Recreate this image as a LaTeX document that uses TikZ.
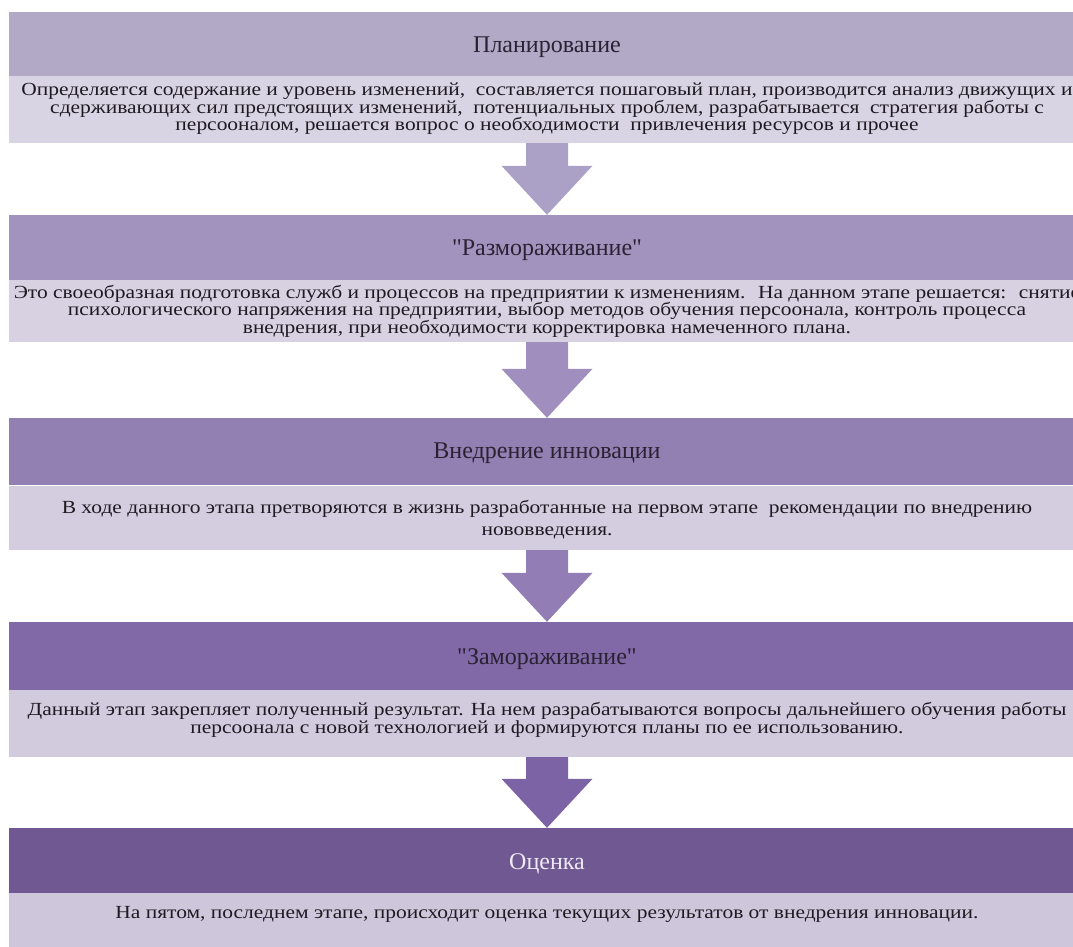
\documentclass[tikz,border=0pt]{standalone}
\usepackage{fontspec}
\setmainfont{Liberation Serif}[Ligatures=TeXOff]
\newfontfamily\serifru{Liberation Serif}[Ligatures=TeXOff]
\newfontfamily\serifwide{Liberation Serif}[Ligatures=TeXOff, FakeStretch=1.16]
\usetikzlibrary{calc}
\definecolor{hA}{HTML}{B2A9C6}
\definecolor{hB}{HTML}{A193BE}
\definecolor{hC}{HTML}{9280B2}
\definecolor{hD}{HTML}{8168A6}
\definecolor{hE}{HTML}{705992}
\definecolor{bA}{HTML}{D9D4E3}
\definecolor{bB}{HTML}{D7D1E1}
\definecolor{bC}{HTML}{D4CDDF}
\definecolor{bD}{HTML}{D2CBDE}
\definecolor{bE}{HTML}{CEC7DB}
\definecolor{aA}{HTML}{ABA1C7}
\definecolor{aB}{HTML}{A08FBE}
\definecolor{aC}{HTML}{927DB4}
\definecolor{aD}{HTML}{7C63A5}
\definecolor{titletext}{HTML}{2A2233}
\definecolor{lighttitle}{HTML}{EFE8F5}
\definecolor{bodytext}{HTML}{1E1A22}
\newcommand{\bodyfont}[1]{\serifwide\fontsize{18.5}{#1}\selectfont\lineskiplimit=-40pt\relax}
\tikzset{
  hdrbox/.style={rectangle, inner sep=0pt, minimum width=1076pt},
  bandbox/.style={rectangle, inner sep=0pt, minimum width=1076pt},
  titletxt/.style={inner sep=0pt, text=titletext, font=\serifru\fontsize{24}{26}\selectfont},
  bodytxt/.style={inner sep=0pt, align=center, text=bodytext}
}
\newcommand{\blockarr}[3]{%
  \fill[#3] ($(#1.south)+(-21,0)$) -- ($(#1.south)+(21,0)$)
    -- ($(#2.north)+(21,-49)$) -- ($(#2.north)+(45.5,-49)$)
    -- (#2.north) -- ($(#2.north)+(-45.5,-49)$) -- ($(#2.north)+(-21,-49)$) -- cycle;}
\begin{document}
\begin{tikzpicture}[x=1pt,y=-1pt]
\useasboundingbox (0,0) rectangle (1073,947);
\clip (0,0) rectangle (1073,947);
\fill[white] (0,0) rectangle (1073,947);
% block 1
\node[hdrbox, fill=hA, minimum height=64pt] (h1) at (547,44) {};
\node[bandbox, fill=bA, minimum height=67pt] (b1) at (547,109.5) {};
\node[titletxt] (t1) at ($(h1.center)+(0,3)$) {Планирование};
\node[bodytxt, font=\bodyfont{17.5}] (d1) at (547,109) {Определяется содержание и уровень изменений,~ составляется пошаговый план, производится анализ движущих и\\сдерживающих сил предстоящих изменений,~ потенциальных проблем, разрабатывается~ стратегия работы с\\персооналом, решается вопрос о необходимости~ привлечения ресурсов и прочее};
% block 2
\node[hdrbox, fill=hB, minimum height=65pt] (h2) at (547,247.5) {};
\node[bandbox, fill=bB, minimum height=62pt] (b2) at (547,311) {};
\node[titletxt] (t2) at ($(h2.center)+(0,3)$) {"Размораживание"};
\node[bodytxt, font=\bodyfont{17.5}] (d2) at (547,311) {Это своеобразная подготовка служб и процессов на предприятии к изменениям.~ На данном этапе решается:~ снятие\\психологического напряжения на предприятии, выбор методов обучения персоонала, контроль процесса\\внедрения, при необходимости корректировка намеченного плана.};
% block 3
\node[hdrbox, fill=hC, minimum height=67pt] (h3) at (547,451.5) {};
\node[bandbox, fill=bC, minimum height=64pt] (b3) at (547,518) {};
\node[titletxt] (t3) at ($(h3.center)+(0,2)$) {Внедрение инновации};
\node[bodytxt, font=\bodyfont{22}] (d3) at (547,520) {В ходе данного этапа претворяются в жизнь разработанные на первом этапе~ рекомендации по внедрению\\нововведения.};
% block 4
\node[hdrbox, fill=hD, minimum height=68pt] (h4) at (547,656) {};
\node[bandbox, fill=bD, minimum height=67pt] (b4) at (547,723.5) {};
\node[titletxt] (t4) at ($(h4.center)+(0,3)$) {"Замораживание"};
\node[bodytxt, font=\bodyfont{18.5}] (d4) at (547,720) {Данный этап закрепляет полученный результат. На нем разрабатываются вопросы дальнейшего обучения работы\\персоонала с новой технологией и формируются планы по ее использованию.};
% block 5
\node[hdrbox, fill=hE, minimum height=65pt] (h5) at (547,860.5) {};
\node[bandbox, fill=bE, minimum height=60pt] (b5) at (547,923) {};
\node[titletxt, text=lighttitle] (t5) at ($(h5.center)+(0,3)$) {Оценка};
\node[bodytxt, font=\bodyfont{17}] (d5) at (547,914) {На пятом, последнем этапе, происходит оценка текущих результатов от внедрения инновации.};
% arrows
\blockarr{b1}{h2}{aA}
\blockarr{b2}{h3}{aB}
\blockarr{b3}{h4}{aC}
\blockarr{b4}{h5}{aD}
\end{tikzpicture}
\end{document}
